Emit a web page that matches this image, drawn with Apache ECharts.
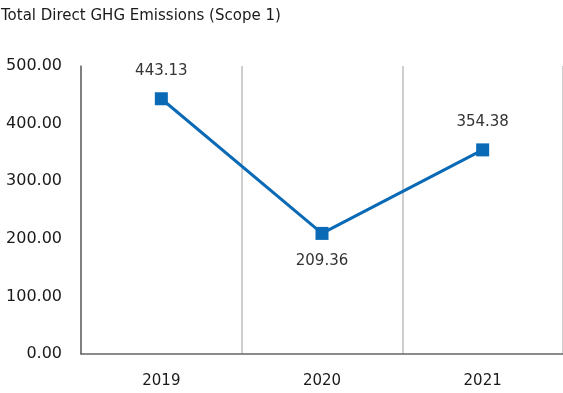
<!DOCTYPE html>
<html><head><meta charset="utf-8">
<script src="https://cdn.jsdelivr.net/npm/echarts@6/dist/echarts.min.js"></script>
<style>html,body{margin:0;padding:0;background:#fff}#c{width:563px;height:393px}</style>
</head><body><div id="c"></div>
<script>
const title = 'Total Direct GHG Emissions (Scope 1)';
const categories = ['2019', '2020', '2021'];
const values = [443.13, 209.36, 354.38];
const labelPositions = ['top', 'bottom', 'top'];
const yTicks = { min: 0, max: 500, interval: 100 };

const chart = echarts.init(document.getElementById('c'), null, { renderer: 'canvas' });
chart.setOption({
  animation: false,
  backgroundColor: '#fff',
  title: {
    text: title, left: -4, top: 4,
    textStyle: { fontFamily: 'DejaVu Sans', fontSize: 15, fontWeight: 'normal', color: '#1a1a1a' }
  },
  grid: { left: 81, right: 0, top: 66, bottom: 39 },
  xAxis: {
    type: 'category', data: categories, boundaryGap: true,
    axisLine: { lineStyle: { color: '#666', width: 1.5 } },
    axisTick: { show: false },
    axisLabel: { margin: 20, fontFamily: 'DejaVu Sans', fontSize: 15, color: '#1a1a1a' },
    splitLine: { show: true, lineStyle: { color: '#cfcfcf', width: 2 } }
  },
  yAxis: {
    type: 'value', min: yTicks.min, max: yTicks.max, interval: yTicks.interval,
    axisLine: { show: true, lineStyle: { color: '#666', width: 1.5 } },
    axisTick: { show: false },
    splitLine: { show: false },
    axisLabel: {
      margin: 19, fontFamily: 'DejaVu Sans', fontSize: 16, color: '#1a1a1a',
      formatter: v => v.toFixed(2)
    }
  },
  series: [{
    type: 'line',
    data: values.map((v, i) => ({ value: v, label: { position: labelPositions[i] } })),
    symbol: 'rect', symbolSize: 13,
    lineStyle: { color: '#0a6ab6', width: 3 },
    itemStyle: { color: '#0a6ab6' },
    label: {
      show: true, distance: 14, fontFamily: 'DejaVu Sans', fontSize: 15, color: '#333',
      formatter: p => p.value.toFixed(2)
    }
  }]
});
</script></body></html>
